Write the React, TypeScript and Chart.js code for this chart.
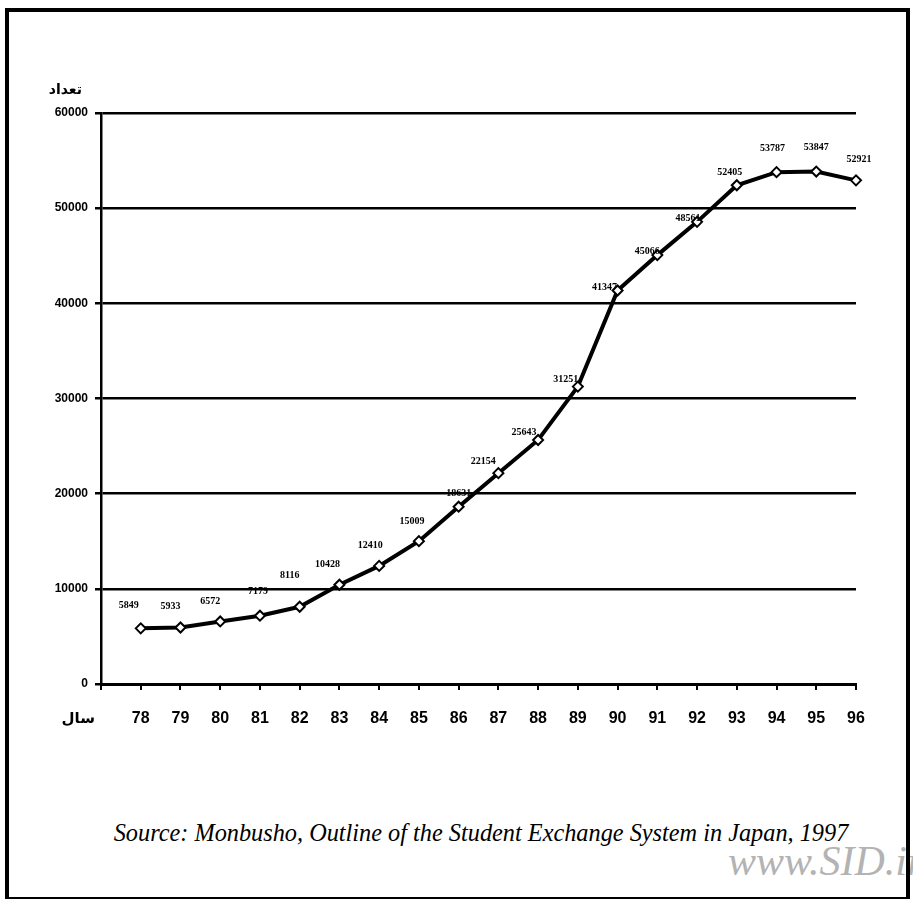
import React, { useEffect, useRef } from "react";
import { Chart, registerables } from "chart.js";

Chart.register(...registerables);

const years = [78, 79, 80, 81, 82, 83, 84, 85, 86, 87, 88, 89, 90, 91, 92, 93, 94, 95, 96];
const students = [5849, 5933, 6572, 7179, 8116, 10428, 12410, 15009, 18631, 22154, 25643, 31251, 41347, 45066, 48561, 52405, 53787, 53847, 52921];
const yTicks = [0, 10000, 20000, 30000, 40000, 50000, 60000];
// label offsets (styling only), dx, dy from each marker
const labelDx = [-12, -10, -10, -2, -10, -12, -9, -7, 0, -15, -14, -12, -13, -10, -9, -7, -4, 0, 3];
const labelDy = [-23, -21, -20, -24, -31, -20, -20, -20, -13, -12, -8, -7, -3, -4, -3, -13, -24, -24, -21];

const yTitle = "تعداد";
const xTitle = "سال";
const sourceText = "Source: Monbusho, Outline of the Student Exchange System in Japan, 1997";
const watermark = "www.SID.ir";

const labelPlugin = {
  id: "valueLabels",
  afterDatasetsDraw(chart: any) {
    const ctx = chart.ctx;
    const meta = chart.getDatasetMeta(0);
    ctx.save();
    ctx.fillStyle = "#000";
    ctx.font = "bold 10px 'Liberation Serif'";
    ctx.textAlign = "center";
    ctx.textBaseline = "middle";
    meta.data.forEach((pt: any, i: number) => {
      ctx.fillText(String(students[i]), pt.x + labelDx[i], pt.y + labelDy[i]);
    });
    const ys = chart.scales.y;
    const xs = chart.scales.x;
    ctx.font = "bold 14px 'DejaVu Sans'";
    ctx.textAlign = "right";
    ctx.fillText(yTitle, ys.right - 19, ys.top - 23);
    ctx.font = "bold 15px 'DejaVu Sans'";
    ctx.fillText(xTitle, ys.right - 6, xs.top + 35);
    ctx.restore();
  },
};

export default function App() {
  const ref = useRef<HTMLCanvasElement | null>(null);
  useEffect(() => {
    if (!ref.current) return;
    const chart = new Chart(ref.current, {
      type: "line",
      data: {
        datasets: [
          {
            data: years.map((y, i) => ({ x: y, y: students[i] })),
            borderColor: "#000",
            borderWidth: 4,
            pointStyle: "rectRot",
            pointRadius: 5,
            pointBackgroundColor: "#fff",
            pointBorderColor: "#000",
            pointBorderWidth: 2,
            tension: 0,
            clip: false,
          },
        ],
      },
      options: {
        animation: false,
        responsive: true,
        maintainAspectRatio: false,
        layout: { padding: { left: 8, top: 113, right: 57, bottom: 26 } },
        plugins: { legend: { display: false }, tooltip: { enabled: false } },
        scales: {
          x: {
            type: "linear",
            min: 77,
            max: 96,
            afterFit: (s: any) => {
              s.height = 50;
            },
            afterBuildTicks: (s: any) => {
              const t = [{ value: 77 }];
              years.forEach((y) => t.push({ value: y }));
              s.ticks = t;
            },
            ticks: {
              stepSize: 1,
              autoSkip: false,
              maxRotation: 0,
              color: "#000",
              padding: 19,
              font: { family: "'Liberation Sans'", weight: "bold", size: 16 },
              callback: (v: any) => (v === 77 ? "" : String(v)),
            },
            grid: { display: true, drawOnChartArea: false, drawTicks: true, tickLength: 6, color: "#000", lineWidth: 2 },
            border: { display: true, color: "#000", width: 3 },
          },
          y: {
            min: 0,
            max: 60000,
            afterFit: (s: any) => {
              s.width = 93;
            },
            afterBuildTicks: (s: any) => {
              s.ticks = yTicks.map((v) => ({ value: v }));
            },
            ticks: {
              color: "#000",
              padding: 7,
              font: { family: "'Liberation Sans'", weight: "bold", size: 12 },
              callback: (v: any) => String(v),
            },
            grid: { color: "#000", lineWidth: 2.5, drawTicks: true, tickLength: 6 },
            border: { display: true, color: "#000", width: 2.5 },
          },
        },
      },
      plugins: [labelPlugin],
    } as any);
    return () => chart.destroy();
  }, []);

  return (
    <div style={{ position: "absolute", left: 0, top: 0, width: 913, height: 902, overflow: "hidden", background: "#fff" }}>
      <div style={{ position: "absolute", left: 0, top: 0, width: 913, height: 760 }}>
        <canvas ref={ref} />
      </div>
      <div
        style={{
          position: "absolute",
          left: 0,
          width: 962,
          top: 819,
          textAlign: "center",
          fontFamily: "'Liberation Serif'",
          fontStyle: "italic",
          fontSize: 24.3,
          color: "#000",
          whiteSpace: "nowrap",
        }}
      >
        {sourceText}
      </div>
      <div
        style={{
          position: "absolute",
          left: 728,
          top: 837,
          fontFamily: "'Liberation Serif'",
          fontStyle: "italic",
          fontSize: 42,
          color: "#b3b3b3",
          whiteSpace: "nowrap",
        }}
      >
        {watermark}
      </div>
      <div
        style={{
          position: "absolute",
          left: 5,
          top: 8,
          width: 905,
          height: 891,
          border: "4px solid #000",
          borderBottomWidth: 2,
          boxSizing: "border-box",
        }}
      />
    </div>
  );
}
